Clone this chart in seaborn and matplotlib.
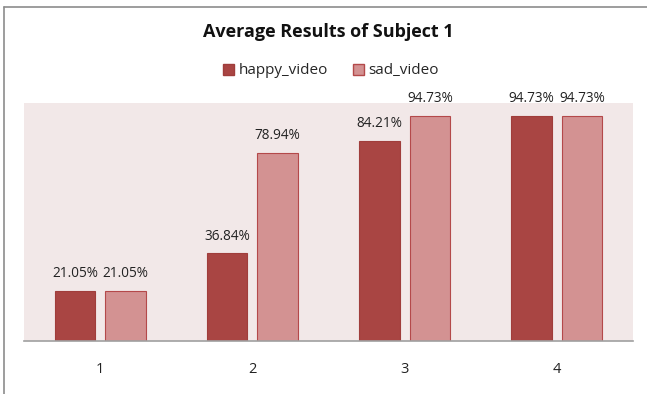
import matplotlib
matplotlib.use("Agg")
import matplotlib.pyplot as plt
from matplotlib.patches import Patch
import seaborn as sns
import pandas as pd

# Data
categories = ["1", "2", "3", "4"]
happy_video = [21.05, 36.84, 84.21, 94.73]
sad_video = [21.05, 78.94, 94.73, 94.73]
series_names = ["happy_video", "sad_video"]

colors = {"happy_video": "#A94543", "sad_video": "#D39292"}
edges = {"happy_video": "#A03D3B", "sad_video": "#B4494A"}

df = pd.DataFrame({
    "category": categories * 2,
    "value": happy_video + sad_video,
    "series": [series_names[0]] * 4 + [series_names[1]] * 4,
})

sns.set_style("white")
plt.rcParams["font.family"] = ["Open Sans", "DejaVu Sans"]

fig = plt.figure(figsize=(6.47, 3.94), dpi=100)
ax = fig.add_axes([24 / 647, 1 - 341 / 394, (633 - 24) / 647, (341 - 103) / 394])

sns.barplot(data=df, x="category", y="value", hue="series", order=categories,
            hue_order=series_names, palette=colors, width=0.665, gap=0.2,
            legend=False, ax=ax, saturation=1)

for cont, name in zip(ax.containers, series_names):
    for bar in cont:
        bar.set_edgecolor(edges[name])
        bar.set_linewidth(0.8)
    ax.bar_label(cont, labels=[f"{v:.2f}%" for v in cont.datavalues],
                 padding=7, fontsize=9.8, color="#222222")

ax.set_facecolor("#F2E8E8")
ax.set_ylim(0, 100)
ax.set_xlim(-0.5, 3.5)
ax.set_yticks([])
ax.set_xlabel("")
ax.set_ylabel("")
for s in ["top", "right", "left"]:
    ax.spines[s].set_visible(False)
ax.spines["bottom"].set_color("#A0A0A0")
ax.spines["bottom"].set_linewidth(1.2)
ax.tick_params(axis="x", length=0, pad=15, labelsize=10.5, colors="#222222")

fig.text(328 / 647, 1 - 32 / 394, "Average Results of Subject 1",
         ha="center", va="center", fontsize=13, fontweight="bold", color="#111111")

handles = [Patch(facecolor=colors[n], edgecolor=edges[n], label=n) for n in series_names]
fig.legend(handles=handles, loc="center", bbox_to_anchor=(331 / 647, 1 - 71 / 394),
           ncol=2, frameon=False, fontsize=11, handlelength=0.75, handleheight=0.75,
           handletextpad=0.3, columnspacing=1.6)

# Chart frame
fig.add_artist(plt.Line2D([4 / 647, 4 / 647], [0, 1 - 7 / 394], transform=fig.transFigure,
                          color="#8C8C8C", linewidth=1.2))
fig.add_artist(plt.Line2D([4 / 647, 1], [1 - 7 / 394, 1 - 7 / 394], transform=fig.transFigure,
                          color="#8C8C8C", linewidth=1.2))

fig.savefig("out.png", dpi=100)
